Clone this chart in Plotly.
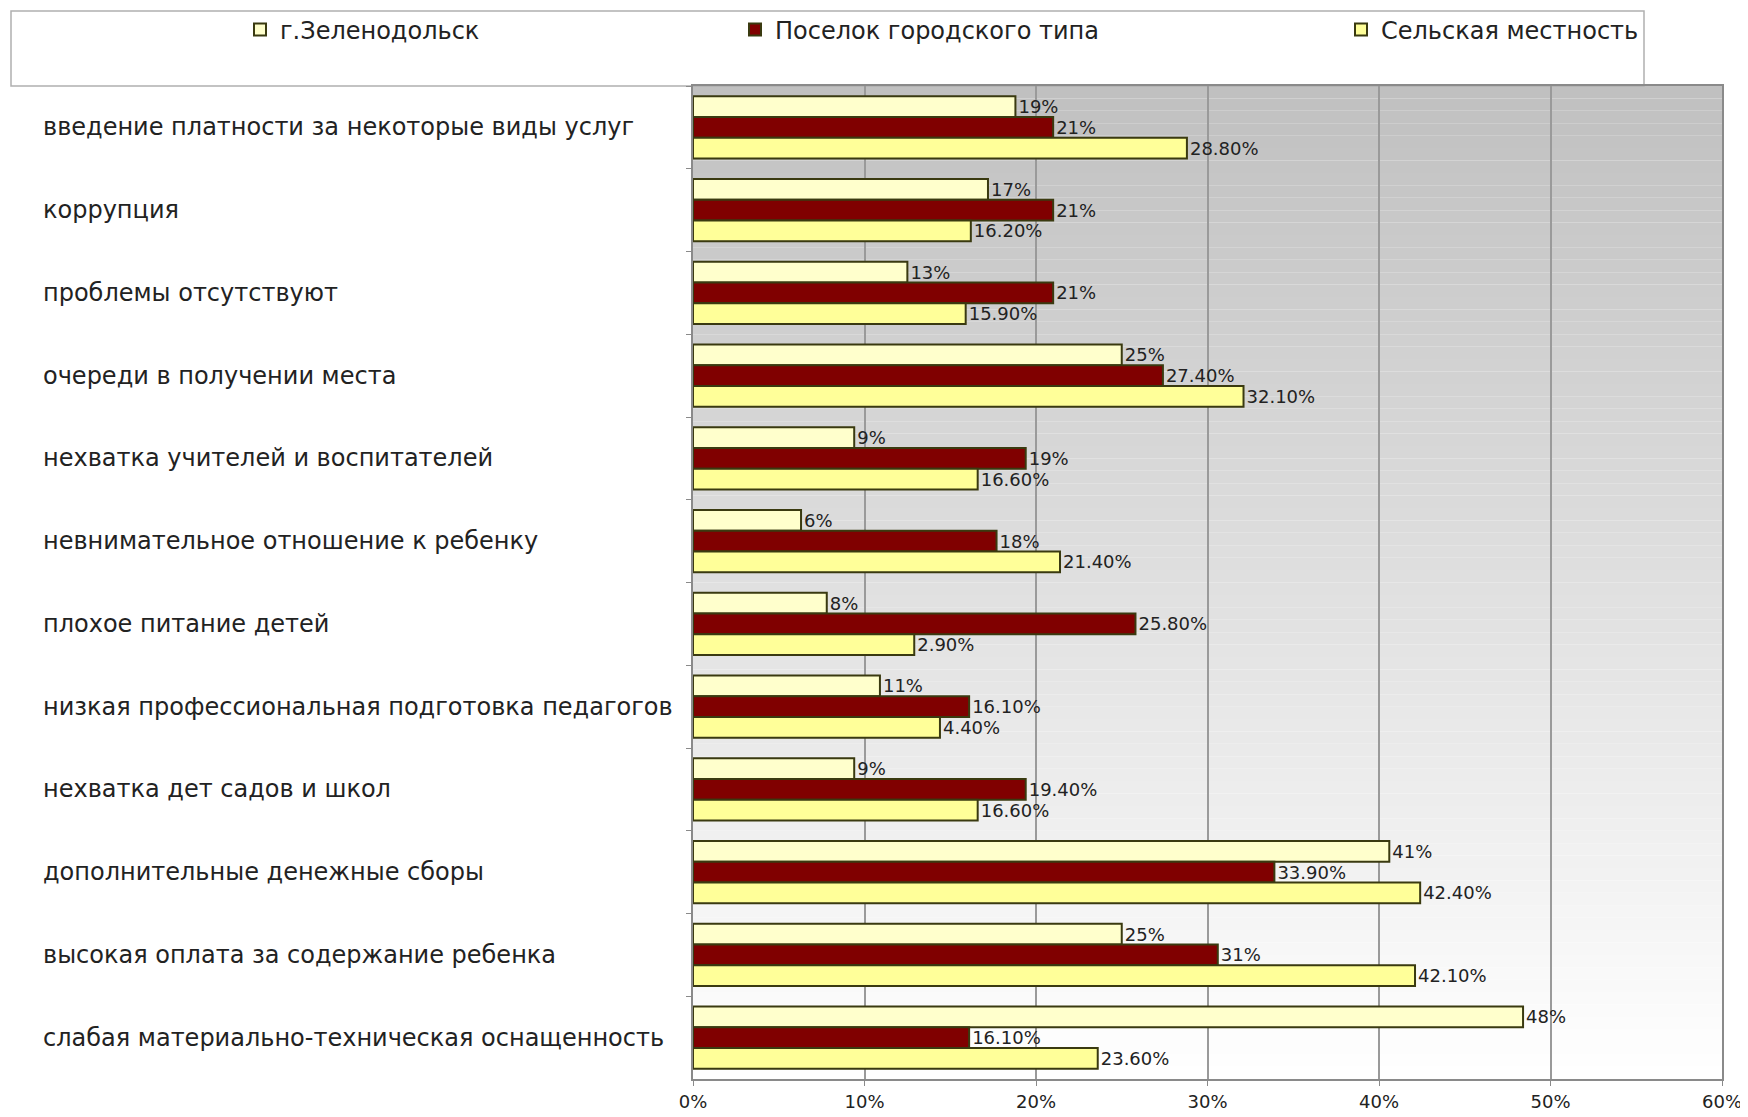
import plotly.graph_objects as go

categories = [
    "введение платности за некоторые виды услуг",
    "коррупция",
    "проблемы отсутствуют",
    "очереди в получении места",
    "нехватка учителей и воспитателей",
    "невнимательное отношение к ребенку",
    "плохое питание детей",
    "низкая профессиональная подготовка педагогов",
    "нехватка дет садов и школ",
    "дополнительные денежные сборы",
    "высокая оплата за содержание ребенка",
    "слабая материально-техническая оснащенность",
]

series_names = ["г.Зеленодольск", "Поселок городского типа", "Сельская местность"]

zelenodolsk = [18.8, 17.2, 12.5, 25.0, 9.4, 6.3, 7.8, 10.9, 9.4, 40.6, 25.0, 48.4]
zelenodolsk_labels = ["19%", "17%", "13%", "25%", "9%", "6%", "8%", "11%", "9%", "41%", "25%", "48%"]

poselok = [21.0, 21.0, 21.0, 27.4, 19.4, 17.7, 25.8, 16.1, 19.4, 33.9, 30.6, 16.1]
poselok_labels = ["21%", "21%", "21%", "27.40%", "19%", "18%", "25.80%", "16.10%", "19.40%", "33.90%", "31%", "16.10%"]

selskaya = [28.8, 16.2, 15.9, 32.1, 16.6, 21.4, 12.9, 14.4, 16.6, 42.4, 42.1, 23.6]
selskaya_labels = ["28.80%", "16.20%", "15.90%", "32.10%", "16.60%", "21.40%", "2.90%", "4.40%", "16.60%", "42.40%", "42.10%", "23.60%"]

x_ticks = [0, 10, 20, 30, 40, 50, 60]
x_tick_labels = ["0%", "10%", "20%", "30%", "40%", "50%", "60%"]

colors = ["#FFFFCC", "#800000", "#FFFF99"]
FONT = "DejaVu Sans, Verdana, sans-serif"

# page body has an 8px margin; figure is sized to fit the window
OFF = 8
W, H = 1748 - OFF, 1117 - OFF
L = 693 - OFF
T = 86 - OFF
R = W - (1722 - OFF)
B = H - (1079 - OFF)
pw = W - L - R
ph = H - T - B

def px_to_paper_x(px):
    return (px - OFF - L) / pw

def px_to_paper_y(py):
    return (H - B - (py - OFF)) / ph

fig = go.Figure()
data = [(zelenodolsk, zelenodolsk_labels), (poselok, poselok_labels), (selskaya, selskaya_labels)]
legend_ids = ["legend", "legend2", "legend3"]
for i, (vals, labs) in enumerate(data):
    fig.add_trace(go.Bar(
        y=categories, x=vals, orientation="h", name=series_names[i],
        marker=dict(color=colors[i], line=dict(color="#3a3a10", width=2)),
        text=labs, textposition="outside", constraintext="none", cliponaxis=False,
        textfont=dict(family=FONT, size=18, color="#222222"),
        legend=legend_ids[i],
    ))

# gradient background (vertical, grey at top -> white at bottom)
shapes = []
n = 80
for k in range(n):
    t = k / (n - 1)
    c = int(round(0xC0 + (0xFF - 0xC0) * t))
    shapes.append(dict(type="rect", xref="x domain", yref="y domain",
                       x0=0, x1=1, y0=1 - (k + 1) / n, y1=1 - k / n,
                       fillcolor=f"rgb({c},{c},{c})", line=dict(width=0), layer="below"))
# legend box
shapes.append(dict(type="rect", xref="paper", yref="paper",
                   x0=px_to_paper_x(11), x1=px_to_paper_x(1644),
                   y0=px_to_paper_y(86), y1=px_to_paper_y(11),
                   fillcolor="white", line=dict(color="#b0b0b0", width=1.5), layer="below"))

annotations = []
for c in categories:
    annotations.append(dict(xref="paper", yref="y", x=px_to_paper_x(41), y=c,
                            xanchor="left", yanchor="middle", text=c, showarrow=False,
                            font=dict(family=FONT, size=24, color="#222222")))

leg_common = dict(orientation="h", yanchor="middle", xanchor="left", bgcolor="rgba(0,0,0,0)",
                  font=dict(family=FONT, size=24, color="#222222"), itemwidth=30)
leg_x = [240, 735, 1341]

fig.update_layout(
    width=W, height=H,
    margin=dict(l=L, r=R, t=T, b=B, autoexpand=False),
    paper_bgcolor="white",
    plot_bgcolor="rgba(0,0,0,0)",
    barmode="group", bargap=0.25, bargroupgap=0,
    shapes=shapes, annotations=annotations,
    legend=dict(x=px_to_paper_x(leg_x[0]), y=px_to_paper_y(30), **leg_common),
    legend2=dict(x=px_to_paper_x(leg_x[1]), y=px_to_paper_y(30), **leg_common),
    legend3=dict(x=px_to_paper_x(leg_x[2]), y=px_to_paper_y(30), **leg_common),
    xaxis=dict(range=[0, 60], tickvals=x_ticks, ticktext=x_tick_labels,
               showgrid=True, gridcolor="#9a9a9a", gridwidth=1.5,
               showline=True, linecolor="#8a8a8a", linewidth=2, mirror=True,
               ticks="outside", ticklen=5, tickcolor="#8a8a8a", ticklabelstandoff=0,
               tickfont=dict(family=FONT, size=18, color="#222222"), zeroline=False),
    yaxis=dict(categoryorder="array", categoryarray=categories, autorange="reversed",
               showticklabels=False, tickson="boundaries", ticks="outside", ticklen=5,
               tickcolor="#8a8a8a", showline=True, linecolor="#8a8a8a", linewidth=2,
               mirror=True, showgrid=False),
    showlegend=True,
)

fig.write_html("out.html")
